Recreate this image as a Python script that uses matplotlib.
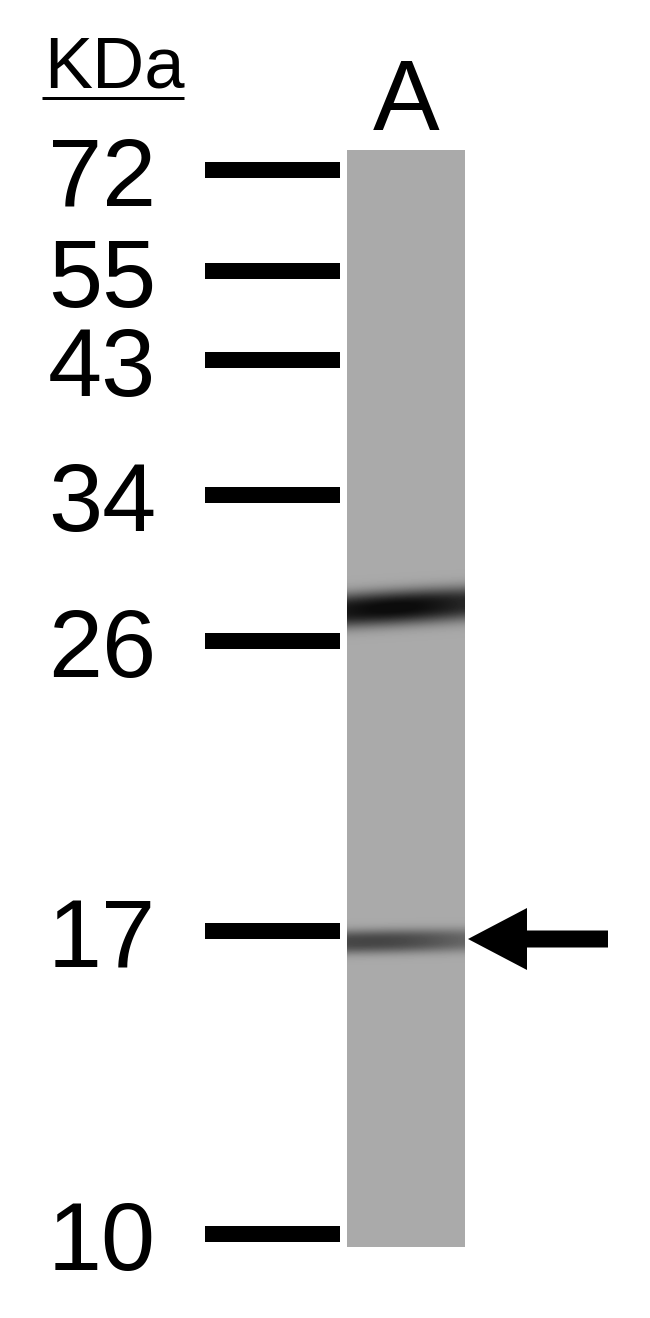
import numpy as np
import matplotlib
matplotlib.use("Agg")
import matplotlib.pyplot as plt

# ---- data read from the blot ----
marker_kda = ["72", "55", "43", "34", "26", "17", "10"]
marker_pos = [170, 271, 360, 495, 641, 931, 1234]      # migration (px from top)
lane_labels = ["A"]
band_pos = [607, 941]          # detected bands in lane A
band_strength = [0.64, 0.40]   # darkening relative to lane background
band_sigma = [13.0, 9.0]
band_tilt = [-7.0, -2.0]       # right-minus-left shift of band centre
band_skew = [0.10, 0.30]       # extra darkness toward the left edge
target_band = 941              # band marked by arrow

# ---- layout ----
W, H = 650, 1318
fig = plt.figure(figsize=(W / 100, H / 100), dpi=100)
ax = fig.add_axes([0, 0, 1, 1])
ax.set_xlim(0, W)
ax.set_ylim(H, 0)
ax.axis("off")
fig.patch.set_facecolor("white")

lane_x0, lane_x1 = 347, 465
lane_top, lane_bot = 150, 1247

# lane image
ny, nx = lane_bot - lane_top, lane_x1 - lane_x0
yy = np.arange(ny)[:, None] + lane_top + 0.5
xx = (np.arange(nx)[None, :] + 0.5) / nx
img = np.full((ny, nx), 0.665)
for p, s, sg, t, sk in zip(band_pos, band_strength, band_sigma, band_tilt, band_skew):
    centre = p + t * (xx - 0.5)
    prof = np.exp(-0.5 * (np.abs(yy - centre) / sg) ** 2.6)
    horiz = (1 - sk * xx) * (0.88 + 0.12 * np.sin(np.pi * np.clip(xx * 1.05, 0, 1)))
    img = img - s * prof * horiz / (1 - sk * 0.3)
img = np.clip(img, 0.05, 1)
ax.imshow(img, cmap="gray", vmin=0, vmax=1, aspect="auto",
          extent=[lane_x0, lane_x1, lane_bot, lane_top], interpolation="bilinear")

# marker ladder
ax.hlines(marker_pos, 205, 340, colors="black", linewidth=16 * 0.72, capstyle="butt")
font = "Liberation Sans"
for lab, p in zip(marker_kda, marker_pos):
    ax.text(156, p + 36, lab, ha="right", va="baseline", fontsize=70,
            family=font, color="black")

# header
ax.text(44, 87, "KDa", ha="left", va="baseline", fontsize=52, family=font, color="black")
ax.hlines([98], 42, 184, colors="black", linewidth=3 * 0.72)
ax.text((lane_x0 + lane_x1) / 2, 130, lane_labels[0], ha="center", va="baseline",
        fontsize=72, family=font, color="black")

# arrow pointing at target band
ax.arrow(608, target_band - 2, -140, 0, width=17, head_width=62, head_length=59,
         length_includes_head=True, color="black", linewidth=0)

fig.savefig("out.png", dpi=100, facecolor="white")
